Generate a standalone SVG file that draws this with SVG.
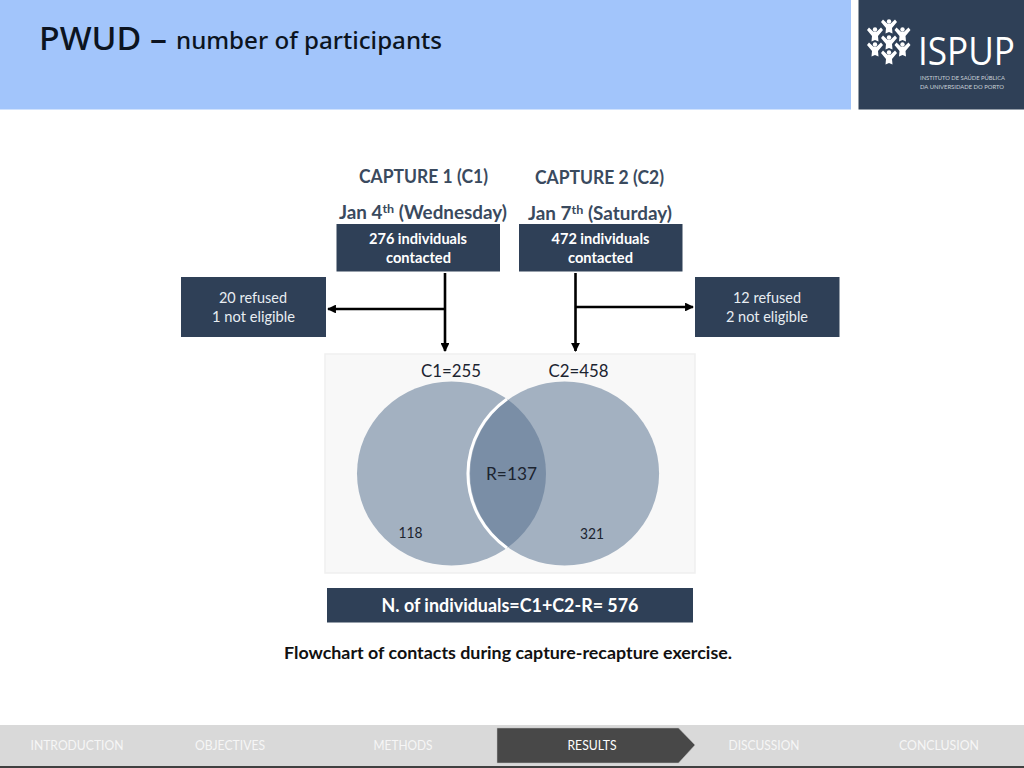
<svg xmlns="http://www.w3.org/2000/svg" width="1024" height="768" viewBox="0 0 1024 768">
<style>
text{font-family:Lato,"Open Sans","Liberation Sans",sans-serif;text-anchor:middle}
.box{fill:#2f4057}
.head{font-size:18px;font-weight:700;fill:#3a4a5e}
.bw{font-size:14.5px;font-weight:700;fill:#fff}
.rw{font-size:14.5px;fill:#e8edf2}
.lab{font-size:18px;fill:#1c2430}
.sm{font-size:14.5px;fill:#1c2430}
.nav{font-size:13px;fill:#f6f6f6;font-weight:400}
.ln{stroke:#000;stroke-width:2.6;fill:none}
.p{fill:#fff}
.ttl{text-anchor:start;font-family:"Noto Sans","Open Sans",sans-serif;font-weight:500;fill:#0c1420}
</style>
<defs>
<marker id="a" viewBox="0 0 10 10" refX="9" refY="5" markerWidth="3.4" markerHeight="3.4" orient="auto"><path d="M0 0L10 5L0 10z" fill="#000"/></marker>
<g id="person"><circle cx="0" cy="-5.500" r="2.200" class="p"/><path class="p" d="M-8-5L-6-7.500L-1.500-3.200H1.500L6-7.500L8-5L3 1L3.500 6.500L0 5L-3.500 6.500L-3 1z"/></g>
<clipPath id="cl"><ellipse cx="451.500" cy="473.500" rx="94.500" ry="92"/></clipPath>
</defs>
<rect width="1024" height="768" fill="#fff"/>
<g id="header">
<rect x="0" y="0" width="851" height="109.500" fill="#a2c5fb"/>
<text x="39" y="49.500" class="ttl" style="font-size:32px" textLength="128" lengthAdjust="spacingAndGlyphs">PWUD –</text>
<text x="176" y="48.500" class="ttl" style="font-size:24px" textLength="266" lengthAdjust="spacingAndGlyphs">number of participants</text>
</g>
<g id="logo">
<rect x="858.500" y="0" width="165.500" height="109.500" fill="#2f4057"/>
<use href="#person" x="889" y="27"/><use href="#person" x="875" y="35"/><use href="#person" x="902.500" y="35"/><use href="#person" x="889" y="43"/><use href="#person" x="875" y="50"/><use href="#person" x="902.500" y="50"/><use href="#person" x="889" y="58"/>
<text x="918" y="65" style="text-anchor:start;font-size:38px;font-family:'Open Sans',sans-serif" fill="#fff" textLength="97" lengthAdjust="spacingAndGlyphs">ISPUP</text>
<text x="920" y="80" style="text-anchor:start;font-size:6px" fill="#c9d0d8" textLength="85" lengthAdjust="spacingAndGlyphs">INSTITUTO DE SAÚDE PÚBLICA</text>
<text x="920" y="88.500" style="text-anchor:start;font-size:6px" fill="#c9d0d8" textLength="84" lengthAdjust="spacingAndGlyphs">DA UNIVERSIDADE DO PORTO</text>
</g>
<g id="capture1-title">
<text x="423.500" y="183" class="head" textLength="129" lengthAdjust="spacingAndGlyphs">CAPTURE 1 (C1)</text>
<text x="423" y="218.500" class="head" textLength="168" lengthAdjust="spacingAndGlyphs">Jan 4<tspan dy="-6" font-size="12">th</tspan><tspan dy="6"> (Wednesday)</tspan></text>
</g>
<g id="capture2-title">
<text x="599.500" y="184" class="head" textLength="129" lengthAdjust="spacingAndGlyphs">CAPTURE 2 (C2)</text>
<text x="600" y="219.500" class="head" textLength="144" lengthAdjust="spacingAndGlyphs">Jan 7<tspan dy="-6" font-size="12">th</tspan><tspan dy="6"> (Saturday)</tspan></text>
</g>
<g id="contacted1">
<rect x="336.500" y="224" width="163.500" height="47.500" class="box"/>
<text x="418" y="243.500" class="bw" textLength="98" lengthAdjust="spacingAndGlyphs">276 individuals</text><text x="418.500" y="262.500" class="bw" textLength="65" lengthAdjust="spacingAndGlyphs">contacted</text>
</g>
<g id="contacted2">
<rect x="519" y="224" width="163.500" height="47.500" class="box"/>
<text x="600.500" y="243.500" class="bw" textLength="98" lengthAdjust="spacingAndGlyphs">472 individuals</text><text x="600.500" y="262.500" class="bw" textLength="65" lengthAdjust="spacingAndGlyphs">contacted</text>
</g>
<g id="excluded1">
<rect x="181" y="277" width="145" height="60" class="box"/>
<text x="253" y="302.500" class="rw" textLength="68" lengthAdjust="spacingAndGlyphs">20 refused</text><text x="253.500" y="321.500" class="rw" textLength="83" lengthAdjust="spacingAndGlyphs">1 not eligible</text>
</g>
<g id="excluded2">
<rect x="695" y="277" width="144.500" height="60" class="box"/>
<text x="767" y="302.500" class="rw" textLength="68" lengthAdjust="spacingAndGlyphs">12 refused</text><text x="767" y="321.500" class="rw" textLength="82" lengthAdjust="spacingAndGlyphs">2 not eligible</text>
</g>
<g id="connectors">
<path class="ln" d="M445 273V351" marker-end="url(#a)"/>
<path class="ln" d="M445 309H328" marker-end="url(#a)"/>
<path class="ln" d="M575.500 273V351" marker-end="url(#a)"/>
<path class="ln" d="M575.500 307H693" marker-end="url(#a)"/>
</g>
<g id="venn">
<rect x="325" y="354" width="370" height="219" fill="#f8f8f8" stroke="#efefef" stroke-width="1.500"/>
<ellipse cx="451.500" cy="473.500" rx="94.500" ry="92" fill="#a3b1c1"/>
<ellipse cx="564.600" cy="473.500" rx="94.500" ry="92" fill="#a3b1c1"/>
<ellipse cx="564.600" cy="473.500" rx="94.500" ry="92" fill="#7a8ea6" clip-path="url(#cl)"/>
<path d="M507 399A94.500 92 0 0 0 507 548" fill="none" stroke="#fff" stroke-width="3"/>
<text x="451" y="376.500" class="lab" textLength="60" lengthAdjust="spacingAndGlyphs">C1=255</text>
<text x="578.500" y="376.500" class="lab" textLength="60" lengthAdjust="spacingAndGlyphs">C2=458</text>
<text x="511.500" y="480" class="lab" textLength="51" lengthAdjust="spacingAndGlyphs">R=137</text>
<text x="410.500" y="537.500" class="sm" textLength="24" lengthAdjust="spacingAndGlyphs">118</text>
<text x="592" y="539" class="sm" textLength="24" lengthAdjust="spacingAndGlyphs">321</text>
</g>
<g id="total">
<rect x="327" y="588" width="366" height="34.500" class="box"/>
<text x="510" y="612" style="font-size:18.500px;font-weight:700" fill="#fff" textLength="257" lengthAdjust="spacingAndGlyphs">N. of individuals=C1+C2-R= 576</text>
</g>
<text x="508" y="658.500" style="font-size:17px;font-weight:700" fill="#111" textLength="448" lengthAdjust="spacingAndGlyphs">Flowchart of contacts during capture-recapture exercise.</text>
<g id="nav">
<rect x="0" y="725" width="1024" height="41" fill="#d9d9d9"/>
<rect x="0" y="766" width="1024" height="2" fill="#404040"/>
<path d="M497 728H678.500L695 745L678.500 763H497z" fill="#484848" stroke="#bdbdbd" stroke-width="0.500"/>
<text x="77" y="749.500" class="nav" textLength="93" lengthAdjust="spacingAndGlyphs">INTRODUCTION</text>
<text x="230" y="749.500" class="nav" textLength="70" lengthAdjust="spacingAndGlyphs">OBJECTIVES</text>
<text x="403" y="749.500" class="nav" textLength="59" lengthAdjust="spacingAndGlyphs">METHODS</text>
<text x="592" y="749.500" class="nav" style="fill:#fff" textLength="49" lengthAdjust="spacingAndGlyphs">RESULTS</text>
<text x="764" y="749.500" class="nav" textLength="71" lengthAdjust="spacingAndGlyphs">DISCUSSION</text>
<text x="939" y="749.500" class="nav" textLength="80" lengthAdjust="spacingAndGlyphs">CONCLUSION</text>
</g>
</svg>
